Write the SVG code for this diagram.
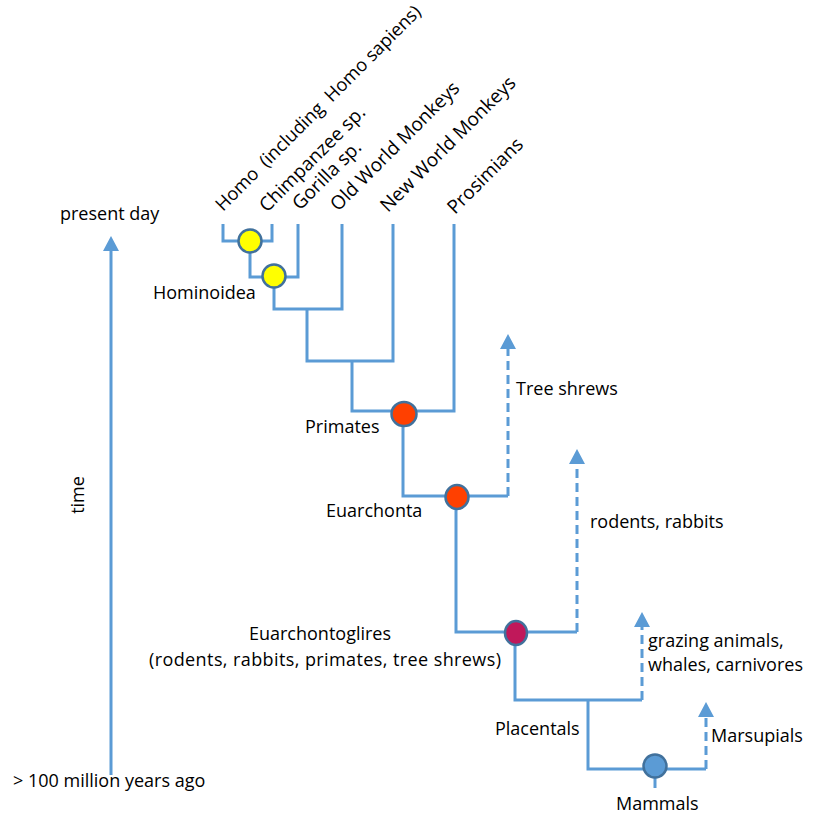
<svg xmlns="http://www.w3.org/2000/svg" width="814" height="816" viewBox="0 0 814 816">
<style>
text{font-family:"Open Sans","Liberation Sans",sans-serif;font-size:18px;fill:#000;white-space:pre}
.r{font-size:19px}
.l{fill:none;stroke:#5B9BD5;stroke-width:3}
.d{fill:none;stroke:#5B9BD5;stroke-width:3;stroke-dasharray:9 5}
.n{stroke:#41719C;stroke-width:2.5}
</style>
<defs>
<marker id="ah" markerUnits="userSpaceOnUse" markerWidth="16" markerHeight="16" viewBox="0 0 16 16" refX="8" refY="14" orient="0">
<polygon points="0,15 8,0 16,15" fill="#5B9BD5"/>
</marker>
</defs>
<g id="connectors">
<path class="l" d="M111,775 V250" marker-end="url(#ah)"/>
<path class="l" d="M223,224 V241 H272 V224"/>
<path class="l" d="M250,241 V277 H298 V224"/>
<path class="l" d="M274,277 V309 H342 V224"/>
<path class="l" d="M307,309 V361 H393 V224"/>
<path class="l" d="M352,361 V411 H454 V224"/>
<path class="l" d="M403,411 V496 H508"/>
<path class="d" d="M508,496 V348" marker-end="url(#ah)"/>
<path class="l" d="M456,496 V632 H577"/>
<path class="d" d="M577,632 V463" marker-end="url(#ah)"/>
<path class="l" d="M515,632 V700 H642"/>
<path class="d" d="M642,700 V626" marker-end="url(#ah)"/>
<path class="l" d="M588,700 V769 H706"/>
<path class="d" d="M706,769 V716" marker-end="url(#ah)"/>
<path class="l" d="M655,769 V788"/>
</g>
<g id="axis-labels">
<text x="60" y="220">present day</text>
<text x="13" y="787">&gt; 100 million years ago</text>
<text transform="translate(84,495) rotate(-90)" text-anchor="middle">time</text>
</g>
<g id="leaf-labels">
<text xml:space="preserve" style="font-size:18.3px" transform="translate(223,212) rotate(-45)">Homo  (including  Homo sapiens)</text>
<text class="r" transform="translate(267,213) rotate(-45)">Chimpanzee sp.</text>
<text class="r" transform="translate(300,211) rotate(-45)">Gorilla sp.</text>
<text class="r" transform="translate(338,212) rotate(-45)">Old World Monkeys</text>
<text class="r" transform="translate(388,213) rotate(-45)">New World Monkeys</text>
<text class="r" transform="translate(455,215) rotate(-45)">Prosimians</text>
</g>
<g id="node-homo-chimp"><circle class="n" cx="250" cy="241" r="11.5" fill="#FFFF00"/></g>
<g id="node-hominoidea"><circle class="n" cx="274" cy="276" r="11.5" fill="#FFFF00"/><text x="153" y="299">Hominoidea</text></g>
<g id="node-primates"><ellipse class="n" cx="404" cy="414" rx="12.5" ry="12" fill="#FF4000"/><text x="305" y="433">Primates</text></g>
<g id="node-euarchonta"><ellipse class="n" cx="457" cy="497" rx="11.5" ry="12" fill="#FF4000"/><text x="326" y="517">Euarchonta</text></g>
<g id="node-euarchontoglires"><ellipse class="n" cx="516" cy="633" rx="11" ry="12" fill="#C0185A"/><text x="320" y="640" text-anchor="middle">Euarchontoglires</text><text x="325" y="666" text-anchor="middle" textLength="352">(rodents, rabbits, primates, tree shrews)</text></g>
<g id="node-placentals"><text x="495" y="735">Placentals</text></g>
<g id="node-mammals"><circle class="n" cx="655" cy="766" r="11.5" fill="#5B9BD5"/><text x="616" y="810">Mammals</text></g>
<g id="label-treeshrews"><text x="516" y="395">Tree shrews</text></g>
<g id="label-rodents"><text x="590" y="528">rodents, rabbits</text></g>
<g id="label-grazing"><text x="648" y="647">grazing animals, </text><text x="648" y="671">whales, carnivores</text></g>
<g id="label-marsupials"><text x="711" y="742">Marsupials</text></g>
</svg>
